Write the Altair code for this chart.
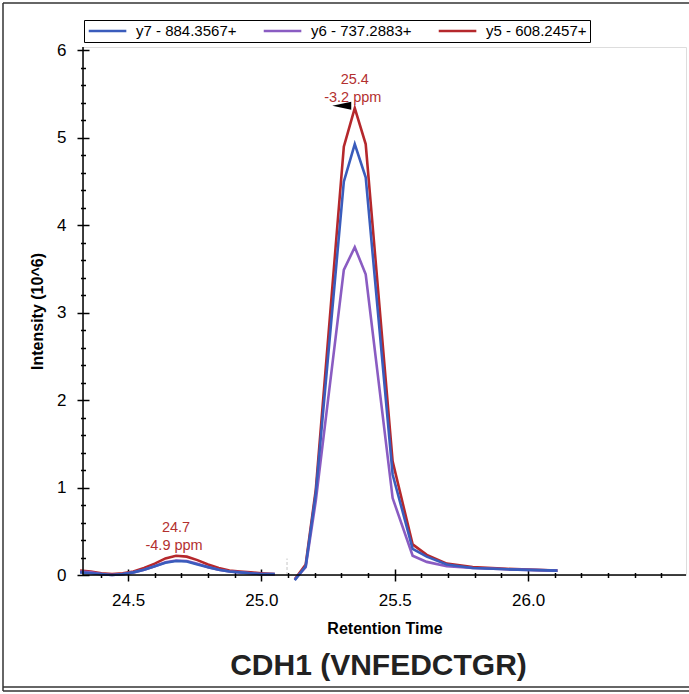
import altair as alt
import pandas as pd

# ---------------- data ----------------
series_names = ["y7 - 884.3567+", "y6 - 737.2883+", "y5 - 608.2457+"]
series_colors = ["#3a5cbc", "#8a5cc2", "#b5282c"]

# small early peak segment
rt_left = [24.32, 24.36, 24.40, 24.44, 24.48, 24.52, 24.56, 24.60, 24.64, 24.68,
           24.72, 24.76, 24.80, 24.84, 24.88, 24.92, 24.96, 25.00, 25.05]
y5_left = [0.05, 0.04, 0.02, 0.01, 0.02, 0.04, 0.08, 0.13, 0.19, 0.22,
           0.21, 0.17, 0.12, 0.08, 0.05, 0.04, 0.03, 0.02, 0.01]
y6_left = [0.04, 0.03, 0.01, 0.00, 0.01, 0.03, 0.06, 0.10, 0.145, 0.165,
           0.16, 0.13, 0.09, 0.06, 0.04, 0.03, 0.02, 0.01, 0.01]
y7_left = [0.03, 0.02, 0.01, 0.00, 0.01, 0.03, 0.06, 0.10, 0.14, 0.16,
           0.155, 0.12, 0.09, 0.06, 0.04, 0.03, 0.02, 0.01, 0.01]

# main peak segment
rt_main = [25.125, 25.166, 25.204, 25.309, 25.350, 25.391, 25.492,
           25.567, 25.620, 25.695, 25.792, 25.920, 26.110]
y5_main = [-0.05, 0.12, 0.98, 4.90, 5.34, 4.93, 1.30, 0.35, 0.23, 0.13, 0.09, 0.07, 0.05]
y6_main = [-0.05, 0.09, 0.85, 3.49, 3.75, 3.44, 0.88, 0.22, 0.15, 0.10, 0.08, 0.065, 0.05]
y7_main = [-0.06, 0.10, 0.94, 4.50, 4.93, 4.55, 1.15, 0.30, 0.21, 0.12, 0.08, 0.065, 0.05]

# peak annotations
peak_rt = [24.68, 25.35]
peak_int = [0.22, 5.34]
peak_rt_label = ["24.7", "25.4"]
peak_ppm_label = ["-4.9 ppm", "-3.2 ppm"]

# gap marker between acquisition segments
gap_rt = [25.096]
gap_lo = [0.0]
gap_hi = [0.19]

# axis ticks
x_major = [24.5, 25.0, 25.5, 26.0]
x_minor = [24.4, 24.6, 24.7, 24.8, 24.9, 25.1, 25.2, 25.3, 25.4, 25.6, 25.7,
           25.8, 25.9, 26.1, 26.2, 26.3, 26.4, 26.5]
y_major = [0, 1, 2, 3, 4, 5, 6]
y_minor = [0.2, 0.4, 0.6, 0.8, 1.2, 1.4, 1.6, 1.8, 2.2, 2.4, 2.6, 2.8, 3.2, 3.4,
           3.6, 3.8, 4.2, 4.4, 4.6, 4.8, 5.2, 5.4, 5.6, 5.8]

chart_title = ["CDH1 (VNFEDCTGR)"]

X_DOMAIN = [24.331, 26.592]
Y_DOMAIN = [0, 6.04]
W, H = 603, 528
FONT = "Liberation Sans"
TXT_RED = "#b3302f"

# ---------------- build table ----------------
rows = []
for name, lv, mv in [(series_names[2], y5_left, y5_main),
                     (series_names[1], y6_left, y6_main),
                     (series_names[0], y7_left, y7_main)]:
    for r, v in zip(rt_left, lv):
        rows.append({"rt": r, "intensity": v, "series": name, "segment": "a"})
    for r, v in zip(rt_main, mv):
        rows.append({"rt": r, "intensity": v, "series": name, "segment": "b"})
df = pd.DataFrame(rows)

ann_df = pd.DataFrame({"rt": peak_rt, "intensity": peak_int,
                       "rt_label": peak_rt_label, "ppm_label": peak_ppm_label})
gap_df = pd.DataFrame({"rt": gap_rt, "lo": gap_lo, "hi": gap_hi})
title_df = pd.DataFrame({"title": chart_title})
dummy = pd.DataFrame({"k": [0]})

xs = alt.Scale(domain=X_DOMAIN, nice=False, zero=False)
ys = alt.Scale(domain=Y_DOMAIN, nice=False, zero=False)

x_axis_major = alt.Axis(values=x_major, format=".1f", tickSize=12, offset=-6, domain=False,
                        grid=False, tickColor="black", tickWidth=1.5, labelFontSize=17,
                        labelFont=FONT, labelColor="black", labelPadding=11,
                        title="Retention Time", titleFont=FONT, titleFontSize=16,
                        titleFontWeight="bold", titleColor="black", titlePadding=12)
y_axis_major = alt.Axis(values=y_major, format="d", tickSize=12, offset=-6, domain=False,
                        grid=False, tickColor="black", tickWidth=1.5, labelFontSize=17,
                        labelFont=FONT, labelColor="black", labelPadding=11,
                        title="Intensity (10^6)", titleFont=FONT, titleFontSize=16,
                        titleFontWeight="bold", titleColor="black", titlePadding=11)
x_axis_minor = alt.Axis(values=x_minor, orient="bottom", tickSize=5, offset=-2.5,
                        domain=False, grid=False, labels=False, title=None,
                        tickColor="black", tickWidth=1.5)
y_axis_minor = alt.Axis(values=y_minor, orient="left", tickSize=5, offset=-2.5,
                        domain=False, grid=False, labels=False, title=None,
                        tickColor="black", tickWidth=1.5)

lines = alt.Chart(df).mark_line(strokeWidth=2.6).encode(
    x=alt.X("rt:Q", scale=xs, axis=x_axis_major),
    y=alt.Y("intensity:Q", scale=ys, axis=y_axis_major),
    color=alt.Color(
        "series:N",
        scale=alt.Scale(domain=series_names, range=series_colors),
        legend=alt.Legend(title=None, orient="none", legendX=1, legendY=-27,
                          direction="horizontal", symbolType="M-1,0H5", symbolSize=157,
                          symbolStrokeWidth=2.5, labelOffset=33, labelFontSize=15,
                          labelFont=FONT, labelColor="black", columnPadding=21,
                          padding=3, strokeColor="black", fillColor="white",
                          labelLimit=0),
    ),
    detail="segment:N",
)

gap = alt.Chart(gap_df).mark_rule(color="#cfcfcf", strokeDash=[3, 2], strokeWidth=1.2).encode(
    x=alt.X("rt:Q", scale=xs, axis=x_axis_minor),
    y=alt.Y("lo:Q", scale=ys, axis=y_axis_minor),
    y2="hi:Q",
)

t_rt = alt.Chart(ann_df).mark_text(fontSize=14.5, font=FONT, color=TXT_RED,
                                   baseline="alphabetic", align="center", dy=-24).encode(
    x=alt.X("rt:Q", scale=xs, axis=None),
    y=alt.Y("intensity:Q", scale=ys, axis=None),
    text="rt_label:N",
)
t_ppm = alt.Chart(ann_df).mark_text(fontSize=14.5, font=FONT, color=TXT_RED,
                                    baseline="alphabetic", align="center", dy=-6, dx=-2).encode(
    x=alt.X("rt:Q", scale=xs, axis=None),
    y=alt.Y("intensity:Q", scale=ys, axis=None),
    text="ppm_label:N",
)
arrow = alt.Chart(ann_df).transform_filter("datum.intensity > 1").mark_point(
    shape="M-1,0L1,-0.42L1,0.42Z", size=361, filled=True, color="black", opacity=1,
    xOffset=-13, yOffset=-2.5).encode(
    x=alt.X("rt:Q", scale=xs, axis=None),
    y=alt.Y("intensity:Q", scale=ys, axis=None),
)

# chart title as text placed under the x-axis title
title_text = alt.Chart(title_df).mark_text(fontSize=30, font=FONT, fontWeight="bold",
                                           color="#222222", align="center",
                                           baseline="alphabetic").encode(
    x=alt.value(W / 2 - 6), y=alt.value(H + 100), text="title:N")

# axis lines
x_line = alt.Chart(dummy).mark_rule(color="black", strokeWidth=1.5).encode(
    x=alt.value(0), x2=alt.value(W), y=alt.value(H))
y_line = alt.Chart(dummy).mark_rule(color="black", strokeWidth=1.5).encode(
    x=alt.value(0), y=alt.value(0), y2=alt.value(H))

# outer frame
f_top = alt.Chart(dummy).mark_rule(color="#333333", strokeWidth=1.5).encode(
    x=alt.value(-80), x2=alt.value(606), y=alt.value(-44))
f_left = alt.Chart(dummy).mark_rule(color="#333333", strokeWidth=1.5).encode(
    x=alt.value(-80), y=alt.value(-44), y2=alt.value(644))
f_bot1 = alt.Chart(dummy).mark_rule(color="#333333", strokeWidth=1.5).encode(
    x=alt.value(-80), x2=alt.value(606), y=alt.value(640))
f_bot2 = alt.Chart(dummy).mark_rule(color="#333333", strokeWidth=1.5).encode(
    x=alt.value(-80), x2=alt.value(606), y=alt.value(644))

chart = alt.layer(
    lines, gap, t_rt, t_ppm, arrow, title_text, x_line, y_line, f_top, f_left, f_bot1, f_bot2
).resolve_axis(x="independent", y="independent").properties(
    width=W, height=H,
    padding={"left": 83, "top": 47, "right": 3, "bottom": 119},
    autosize=alt.AutoSizeParams(type="none"),
    background="white",
).configure_view(stroke=None).configure(font=FONT)

chart.save("out.html", embed_options={"renderer": "svg", "actions": False})
